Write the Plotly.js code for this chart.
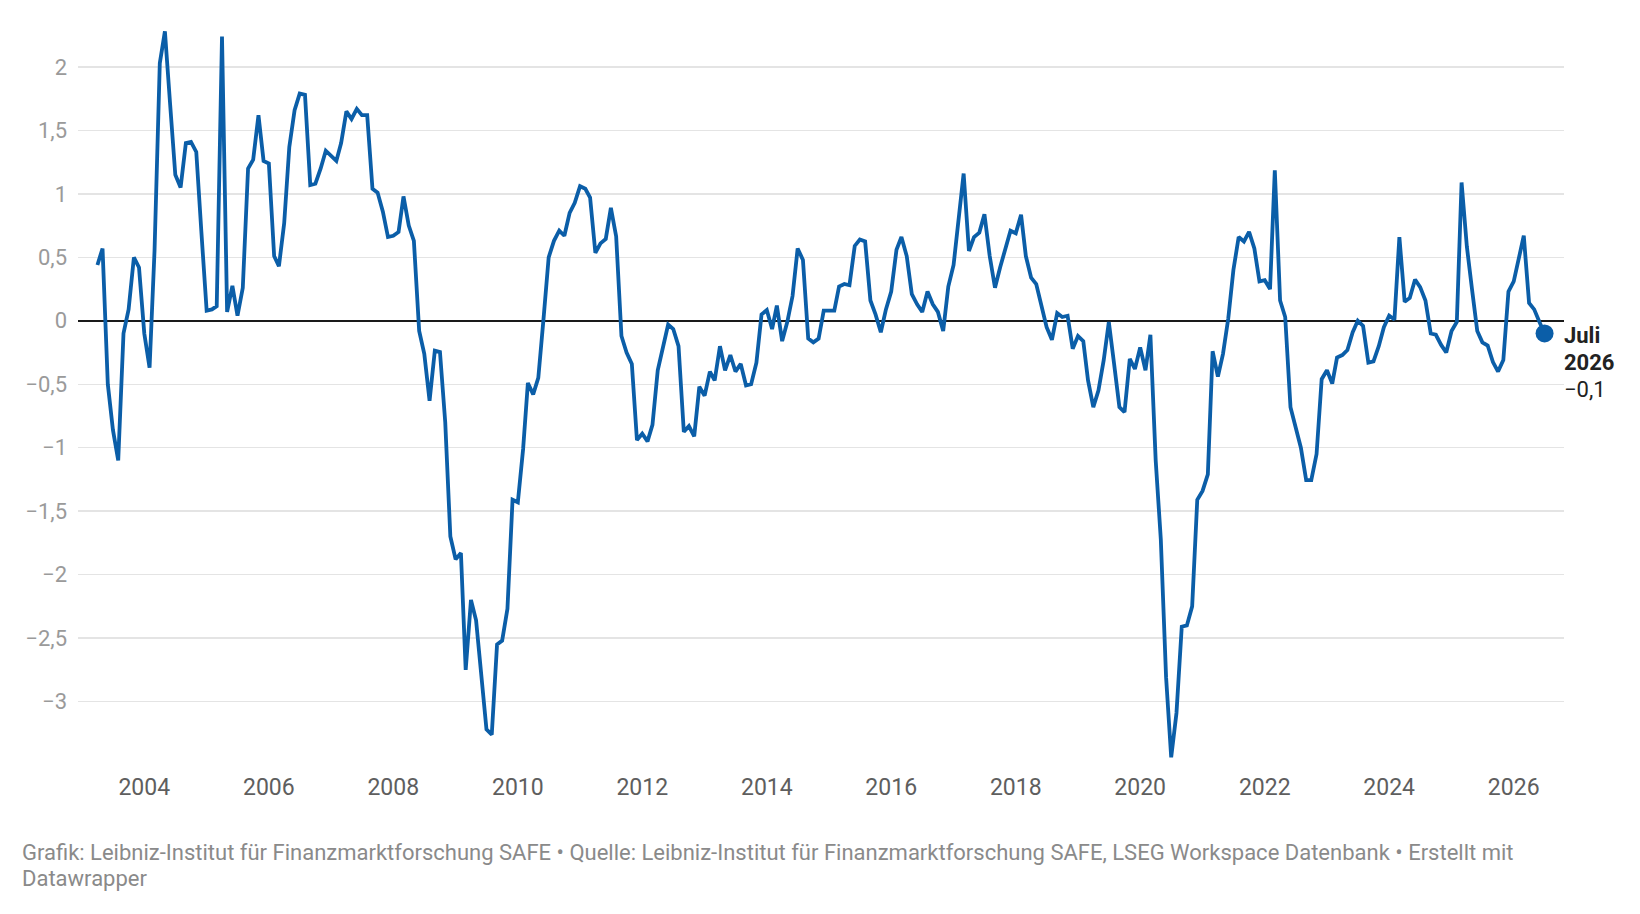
<!DOCTYPE html>
<html>
<head>
<meta charset="utf-8">
<script src="https://cdn.plot.ly/plotly-3.0.1.min.js"></script>
<style>
  html, body { margin: 0; padding: 0; background: #fff; }
  #chart { width: 1640px; height: 914px; }
</style>
</head>
<body>
<div id="chart"></div>
<script>
// monthly series, first value = April 2003, last value = July 2026
var startYear = 2003;
var startMonth = 4;

var values = [
    0.44, 0.57, -0.50, -0.86, -1.10, -0.10, 0.09, 0.50, 0.42,               // 2003 (Apr-Dec)
    -0.10, -0.37, 0.55, 2.03, 2.28, 1.70, 1.15, 1.05, 1.40, 1.41, 1.33, 0.70, // 2004
    0.08, 0.09, 0.115, 2.24, 0.07, 0.275, 0.04, 0.26, 1.20, 1.27, 1.62, 1.26, // 2005
    1.24, 0.51, 0.43, 0.77, 1.37, 1.66, 1.79, 1.78, 1.07, 1.08, 1.20, 1.34,  // 2006
    1.30, 1.26, 1.40, 1.65, 1.59, 1.67, 1.62, 1.62, 1.04, 1.01, 0.86, 0.66,  // 2007
    0.67, 0.70, 0.98, 0.75, 0.63, -0.08, -0.26, -0.63, -0.235, -0.245, -0.80, -1.70, // 2008
    -1.88, -1.83, -2.75, -2.20, -2.36, -2.80, -3.22, -3.26, -2.55, -2.52, -2.27, -1.41, // 2009
    -1.43, -1.01, -0.49, -0.58, -0.45, 0.02, 0.50, 0.63, 0.71, 0.67, 0.85, 0.93, // 2010
    1.06, 1.04, 0.97, 0.535, 0.61, 0.645, 0.89, 0.665, -0.12, -0.25, -0.34, -0.94, // 2011
    -0.89, -0.95, -0.82, -0.39, -0.20, -0.03, -0.065, -0.20, -0.875, -0.83, -0.91, -0.52, // 2012
    -0.59, -0.40, -0.47, -0.20, -0.39, -0.27, -0.40, -0.34, -0.51, -0.50, -0.33, 0.05, // 2013
    0.085, -0.065, 0.12, -0.16, -0.01, 0.195, 0.57, 0.48, -0.14, -0.17, -0.14, 0.08, // 2014
    0.08, 0.08, 0.27, 0.29, 0.28, 0.59, 0.64, 0.625, 0.16, 0.05, -0.09, 0.09, // 2015
    0.23, 0.56, 0.66, 0.51, 0.21, 0.13, 0.07, 0.23, 0.13, 0.07, -0.08, 0.27, // 2016
    0.44, 0.82, 1.16, 0.55, 0.66, 0.695, 0.84, 0.51, 0.26, 0.42, 0.57, 0.71, // 2017
    0.69, 0.835, 0.51, 0.34, 0.29, 0.10, -0.05, -0.15, 0.06, 0.03, 0.04, -0.22, // 2018
    -0.12, -0.16, -0.47, -0.68, -0.55, -0.31, -0.01, -0.34, -0.68, -0.72, -0.30, -0.38, // 2019
    -0.21, -0.39, -0.11, -1.10, -1.72, -2.81, -3.44, -3.09, -2.41, -2.40, -2.25, -1.41, // 2020
    -1.34, -1.21, -0.24, -0.44, -0.26, 0.02, 0.40, 0.66, 0.625, 0.70, 0.57, 0.31, // 2021
    0.32, 0.25, 1.185, 0.16, 0.03, -0.68, -0.85, -1.00, -1.255, -1.255, -1.05, -0.46, // 2022
    -0.39, -0.495, -0.29, -0.27, -0.23, -0.09, 0.00, -0.04, -0.33, -0.32, -0.20, -0.05, // 2023
    0.04, 0.01, 0.66, 0.15, 0.18, 0.325, 0.265, 0.16, -0.10, -0.11, -0.19, -0.25, // 2024
    -0.08, -0.01, 1.09, 0.585, 0.25, -0.08, -0.17, -0.195, -0.325, -0.40, -0.31, 0.23, // 2025
    0.31, 0.49, 0.67, 0.14, 0.09, -0.01, -0.10                               // 2026 (Jan-Jul)
];

var tickYears = [2004, 2006, 2008, 2010, 2012, 2014, 2016, 2018, 2020, 2022, 2024, 2026];
var yTickVals = [-3, -2.5, -2, -1.5, -1, -0.5, 0, 0.5, 1, 1.5, 2];
var yTickText = ["\u22123", "\u22122,5", "\u22122", "\u22121,5", "\u22121", "\u22120,5", "0", "0,5", "1", "1,5", "2"];

var lastLabelLines = ["<b>Juli</b>", "<b>2026</b>", "\u22120,1"];
var footerLines = [
    "Grafik: Leibniz-Institut für Finanzmarktforschung SAFE • Quelle: Leibniz-Institut für Finanzmarktforschung SAFE, LSEG Workspace Datenbank • Erstellt mit",
    "Datawrapper"
];

function monthDates(y, m, n) {
    var out = [];
    for (var k = 0; k < n; k++) {
        var yy = y + Math.floor((m - 1 + k) / 12);
        var mm = ((m - 1 + k) % 12) + 1;
        out.push(yy + "-" + (mm < 10 ? "0" + mm : mm) + "-01");
    }
    return out;
}

var dates = monthDates(startYear, startMonth, values.length);
var lineColor = "#0b5ea8";
var fontFamily = "Roboto, 'Noto Sans', sans-serif";

var seriesLine = {
    x: dates, y: values, type: "scatter", mode: "lines",
    line: { color: lineColor, width: 3.8 },
    hoverinfo: "skip", showlegend: false
};

var endPoint = {
    x: [dates[dates.length - 1]], y: [values[values.length - 1]],
    type: "scatter", mode: "markers",
    marker: { color: lineColor, size: 18 },
    cliponaxis: false, hoverinfo: "skip", showlegend: false
};

var annotations = [];

// label next to the last point
lastLabelLines.forEach(function (t, k) {
    annotations.push({
        xref: "x", yref: "y",
        x: dates[dates.length - 1], y: 0,
        xanchor: "left", yanchor: "top", align: "left",
        xshift: 17, yshift: -k * 27,
        text: t, showarrow: false,
        font: { family: fontFamily, size: 22, color: "#222" }
    });
});

// source line under the chart
footerLines.forEach(function (t, k) {
    annotations.push({
        xref: "paper", yref: "paper",
        x: -0.039, y: -0.098,
        xanchor: "left", yanchor: "top", align: "left",
        yshift: -k * 26,
        text: t, showarrow: false,
        font: { family: fontFamily, size: 22, color: "#8a8a8a" }
    });
});

var layout = {
    width: 1640,
    height: 914,
    margin: { l: 78, r: 76, t: 20, b: 149 },
    paper_bgcolor: "#ffffff",
    plot_bgcolor: "#ffffff",
    font: { family: fontFamily, color: "#333" },
    xaxis: {
        type: "date",
        range: ["2002-12-08", "2026-10-23"],
        tickvals: tickYears.map(function (y) { return y + "-01-01"; }),
        ticktext: tickYears.map(String),
        showgrid: false, zeroline: false, showline: false, ticks: "",
        ticklabelstandoff: 6,
        tickfont: { family: fontFamily, size: 23, color: "#5e5e5e" },
        fixedrange: true
    },
    yaxis: {
        range: [-3.50, 2.37],
        tickvals: yTickVals,
        ticktext: yTickText,
        showgrid: true, gridcolor: "#e4e4e4", gridwidth: 1.5,
        zeroline: true, zerolinecolor: "#1a1a1a", zerolinewidth: 1.6,
        showline: false, ticks: "",
        ticklabelstandoff: 10,
        tickfont: { family: fontFamily, size: 22, color: "#9a9a9a" },
        fixedrange: true
    },
    annotations: annotations
};

var config = { displayModeBar: false, staticPlot: true };

Plotly.newPlot("chart", [seriesLine, endPoint], layout, config);
</script>
</body>
</html>
